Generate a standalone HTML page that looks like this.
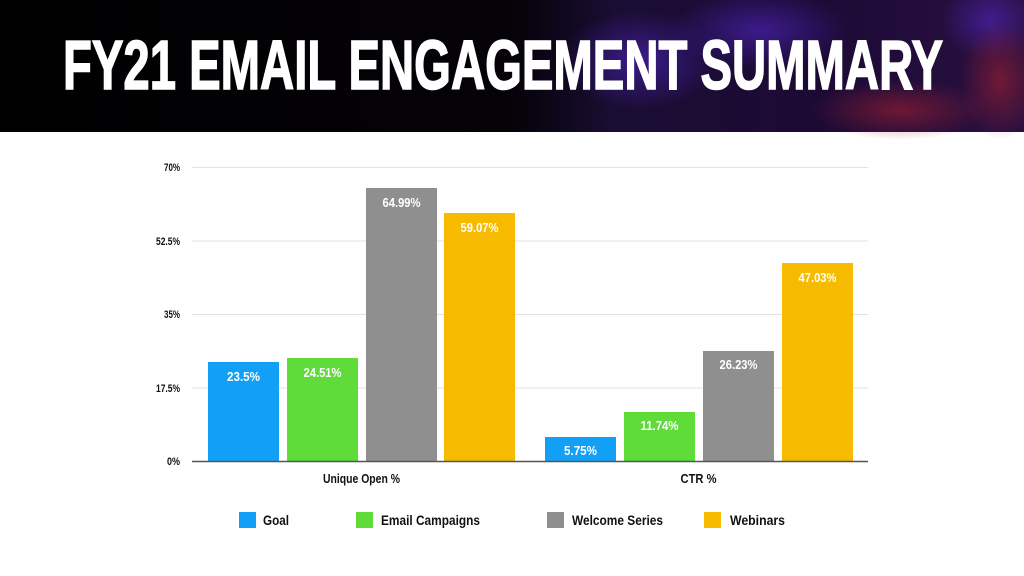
<!DOCTYPE html>
<html><head><meta charset="utf-8"><style>
html,body{margin:0;padding:0;background:#fff;width:1024px;height:576px;overflow:hidden}
text{font-family:"Liberation Sans",sans-serif;font-weight:bold}
</style></head><body>
<svg width="1024" height="576" viewBox="0 0 1024 576" xmlns="http://www.w3.org/2000/svg">
<defs>
<linearGradient id="hg" x1="0" x2="1" y1="0" y2="0">
<stop offset="0" stop-color="#000"/><stop offset="0.5" stop-color="#050208"/>
<stop offset="0.6" stop-color="#1a0d33"/><stop offset="0.8" stop-color="#1c0a35"/><stop offset="1" stop-color="#2a1040"/>
</linearGradient>
<radialGradient id="p1"><stop offset="0" stop-color="#4a22b0" stop-opacity="0.7"/><stop offset="1" stop-color="#4a22b0" stop-opacity="0"/></radialGradient>
<radialGradient id="r1"><stop offset="0" stop-color="#a02030" stop-opacity="0.6"/><stop offset="1" stop-color="#a02030" stop-opacity="0"/></radialGradient>
</defs>
<rect x="0" y="0" width="1024" height="132" fill="url(#hg)"/>
<ellipse cx="760" cy="30" rx="90" ry="40" fill="url(#p1)"/>
<ellipse cx="640" cy="60" rx="80" ry="50" fill="url(#p1)"/>
<ellipse cx="990" cy="20" rx="50" ry="40" fill="url(#p1)"/>
<ellipse cx="900" cy="110" rx="90" ry="30" fill="url(#r1)"/>
<ellipse cx="1000" cy="80" rx="40" ry="60" fill="url(#r1)"/>
<text x="503" y="89" font-size="70" fill="#fff" stroke="#fff" stroke-width="1.6" text-anchor="middle" textLength="880" lengthAdjust="spacingAndGlyphs">FY21 EMAIL ENGAGEMENT SUMMARY</text>
<g stroke="#e2e2e2" stroke-width="1">
<line x1="192" x2="868" y1="167.5" y2="167.5"/>
<line x1="192" x2="868" y1="241" y2="241"/>
<line x1="192" x2="868" y1="314.5" y2="314.5"/>
<line x1="192" x2="868" y1="388" y2="388"/>
</g>
<g font-size="11" fill="#111" text-anchor="end">
<text x="180" y="171" textLength="16" lengthAdjust="spacingAndGlyphs">70%</text>
<text x="180" y="245" textLength="24" lengthAdjust="spacingAndGlyphs">52.5%</text>
<text x="180" y="318" textLength="16" lengthAdjust="spacingAndGlyphs">35%</text>
<text x="180" y="392" textLength="24" lengthAdjust="spacingAndGlyphs">17.5%</text>
<text x="180" y="465" textLength="13" lengthAdjust="spacingAndGlyphs">0%</text>
</g>
<g>
<rect x="208" y="362" width="71" height="99" fill="#12a0f7"/>
<rect x="287" y="358" width="71" height="103" fill="#5fdb3a"/>
<rect x="366" y="188" width="71" height="273" fill="#8f8f8f"/>
<rect x="444" y="213" width="71" height="248" fill="#f6ba00"/>
<rect x="545" y="437" width="71" height="24" fill="#12a0f7"/>
<rect x="624" y="412" width="71" height="49" fill="#5fdb3a"/>
<rect x="703" y="351" width="71" height="110" fill="#8f8f8f"/>
<rect x="782" y="263" width="71" height="198" fill="#f6ba00"/>
</g>
<line x1="192" x2="868" y1="461.5" y2="461.5" stroke="#555" stroke-width="1.5"/>
<g font-size="13" fill="#fff" text-anchor="middle">
<text x="243.5" y="381" textLength="33" lengthAdjust="spacingAndGlyphs">23.5%</text>
<text x="322.5" y="377" textLength="38" lengthAdjust="spacingAndGlyphs">24.51%</text>
<text x="401.5" y="207" textLength="38" lengthAdjust="spacingAndGlyphs">64.99%</text>
<text x="479.5" y="232" textLength="38" lengthAdjust="spacingAndGlyphs">59.07%</text>
<text x="580.5" y="455" textLength="33" lengthAdjust="spacingAndGlyphs">5.75%</text>
<text x="659.5" y="430" textLength="38" lengthAdjust="spacingAndGlyphs">11.74%</text>
<text x="738.5" y="369" textLength="38" lengthAdjust="spacingAndGlyphs">26.23%</text>
<text x="817.5" y="282" textLength="38" lengthAdjust="spacingAndGlyphs">47.03%</text>
</g>
<g font-size="13" fill="#111" text-anchor="middle">
<text x="361.5" y="483" textLength="77" lengthAdjust="spacingAndGlyphs">Unique Open %</text>
<text x="698.5" y="483" textLength="36" lengthAdjust="spacingAndGlyphs">CTR %</text>
</g>
<rect x="239" y="512" width="17" height="16" fill="#12a0f7"/>
<rect x="356" y="512" width="17" height="16" fill="#5fdb3a"/>
<rect x="547" y="512" width="17" height="16" fill="#8f8f8f"/>
<rect x="704" y="512" width="17" height="16" fill="#f6ba00"/>
<g font-size="14" fill="#111">
<text x="263" y="525" textLength="26" lengthAdjust="spacingAndGlyphs">Goal</text>
<text x="381" y="525" textLength="99" lengthAdjust="spacingAndGlyphs">Email Campaigns</text>
<text x="572" y="525" textLength="91" lengthAdjust="spacingAndGlyphs">Welcome Series</text>
<text x="730" y="525" textLength="55" lengthAdjust="spacingAndGlyphs">Webinars</text>
</g>
</svg>
</body></html>
